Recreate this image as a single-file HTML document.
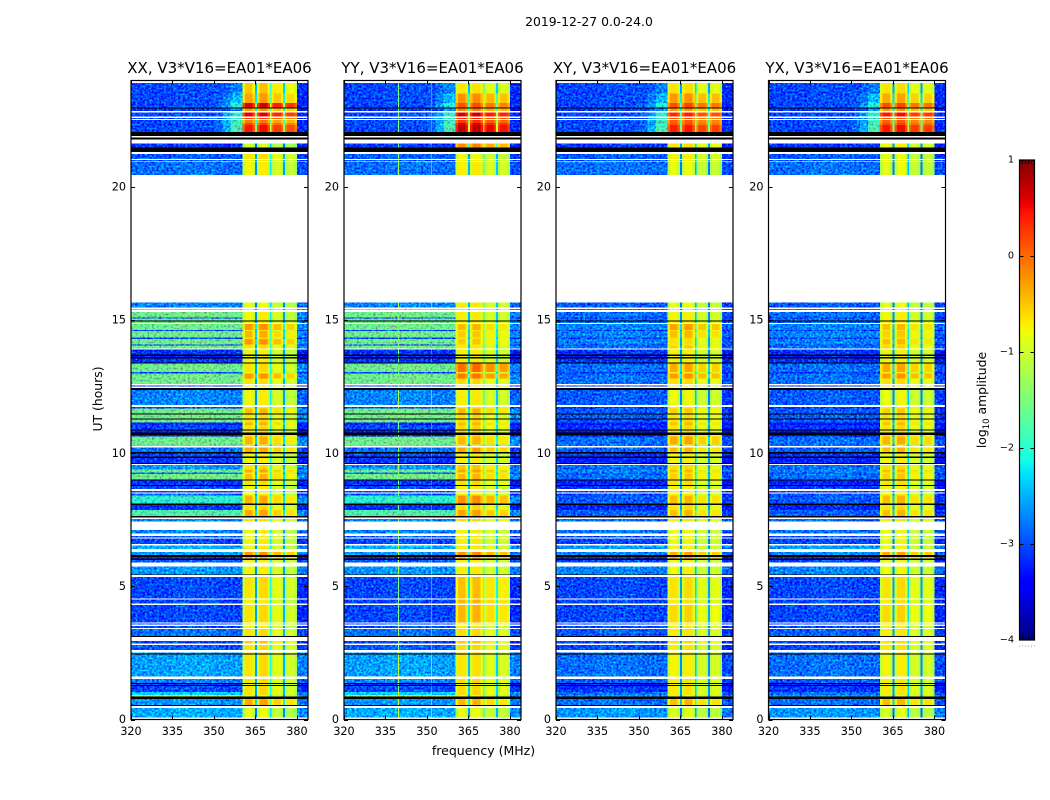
<!DOCTYPE html>
<html lang="en">
<head>
<meta charset="utf-8">
<title>2019-12-27 amplitude waterfall</title>
<style>
html,body{margin:0;padding:0;background:#fff;width:1050px;height:800px;overflow:hidden}
svg{display:block}
text{font-family:"DejaVu Sans","Liberation Sans",sans-serif;fill:#000}
</style>
</head>
<body>
<svg id="figure" xmlns="http://www.w3.org/2000/svg" width="1050" height="800" viewBox="0 0 1050 800">
  <defs>
    <filter id="speckle" x="0" y="0" width="1" height="1" color-interpolation-filters="sRGB">
      <feTurbulence type="fractalNoise" baseFrequency="0.42 0.5" numOctaves="2" seed="7" result="n"/>
      <feColorMatrix in="n" type="matrix" values="0 0 0 0 0.5  0 1.4 0 0 -0.24  0 0 0 0 0.5  0 0 0 0 1" result="g"/>
      <feComposite in="SourceGraphic" in2="g" operator="arithmetic" k1="0" k2="1" k3="1" k4="-0.5" result="mix"/>
      <feComposite in="mix" in2="SourceAlpha" operator="in"/>
    </filter>
  </defs>
  <text x="589" y="26" text-anchor="middle" font-size="12.4">2019-12-27 0.0-24.0</text>
  <text x="483.5" y="755" text-anchor="middle" font-size="12.5">frequency (MHz)</text>
  <text transform="translate(102,399) rotate(-90)" text-anchor="middle" font-size="12.4">UT (hours)</text>
  <text transform="translate(986,400) rotate(-90)" text-anchor="middle" font-size="12.4">log<tspan font-size="8.5" dy="3">10</tspan><tspan dy="-3"> amplitude</tspan></text>
</svg>
<script>
const W = null;
const K = -9;

const panelTitles = ['XX, V3*V16=EA01*EA06','YY, V3*V16=EA01*EA06','XY, V3*V16=EA01*EA06','YX, V3*V16=EA01*EA06'];
const freqTicks = [320,335,350,365,380];
const hourTicks = [0,5,10,15,20];
const colorbarTicks = [1,0,-1,-2,-3,-4];

const freqRange = [320,384];
const hourRange = [0,24];
const colorRange = [-4,1];

/* UT hour edges of the time rows, top to bottom */
const rowEdges = [24,23.91,23.51,23.16,22.99,22.94,22.85,22.80,22.64,22.60,
22.56,22.52,22.41,22.32,22.07,21.91,21.86,21.79,21.64,21.49,
21.31,21.24,21.06,21.02,20.97,20.95,20.45,15.67,15.48,15.42,
15.38,15.30,15.10,15.06,14.99,14.95,14.90,14.85,14.63,14.59,
14.34,14.29,14.09,14.05,13.94,13.89,13.71,13.66,13.61,13.56,
13.41,13.37,13.06,13.00,12.81,12.60,12.55,12.51,12.46,12.37,
11.81,11.73,11.69,11.50,11.46,11.31,11.27,11.16,11.06,10.90,
10.86,10.78,10.68,10.62,10.32,10.27,10.22,10.05,10.00,9.87,
9.83,9.64,9.59,9.56,9.39,9.28,9.22,9.02,8.98,8.81,
8.77,8.66,8.59,8.53,8.49,8.42,8.12,8.05,7.87,7.64,
7.59,7.53,7.43,7.12,6.99,6.89,6.84,6.79,6.59,6.54,
6.40,6.29,6.17,6.11,6.04,6.00,5.89,5.74,5.45,5.43,
5.36,4.55,4.51,4.35,4.30,3.65,3.61,3.56,3.52,3.44,
3.40,3.14,3.09,2.95,2.86,2.80,2.61,2.51,2.47,2.45,
1.61,1.52,1.38,1.34,1.30,1.26,1.04,.92,.86,.77,
.54,.51,.44,.07,0];

/* background log10 amplitude per row: parallel hands (XX, YY) */
const bgParallel = [W,-3,-3,-3,K,-3.1,W,-3,W,-3,
W,-3,-3,-3,K,W,K,W,-3.1,K,
W,-2.9,W,-2.9,W,-2.8,W,-2.7,W,-1.6,
W,-1.6,-3,-1.6,K,-1.6,W,-1.6,-3,-1.6,
-3,-1.6,-3,-1.6,W,-3.1,K,-3.2,K,-3.1,
K,-1.6,-3,-1.6,-1.6,W,-3,W,K,-2.7,
W,-3,-1.6,K,-1.6,K,-1.6,-3.2,-3,K,
-3.2,K,-3.2,-1.6,-1.7,W,-2.8,K,-3,K,
-3.1,K,W,-2.6,-1.6,-2.8,-1.6,K,-3.1,K,
-3,W,-3,W,-2.9,-2,K,-3.1,-1.8,K,
W,-2.7,W,-2.7,W,-2.9,W,-3,W,-2.5,
W,-2.6,K,-3.1,K,-2.9,W,-2.6,K,W,
-3,W,-3,W,-3,W,-3,W,-3,W,
-2.8,K,W,-3,W,-2.9,W,-2.6,K,-2.55,
W,-2.7,K,-3.1,K,-3,-2.3,-1,K,-2.6,
K,W,-2.5,W];

/* background log10 amplitude per row: cross hands (XY, YX) */
const bgCross = [W,-3,-3,-3,K,-3.1,W,-3,W,-3,
W,-3,-3,-3,K,W,K,W,-3.1,K,
W,-2.9,W,-2.9,W,-2.8,W,-2.9,W,-2.8,
W,-2.8,-3.1,-2.8,K,-2.8,W,-2.7,-3,-2.7,
-3,-2.7,-3,-2.8,W,-3.1,K,-3.2,K,-3.1,
K,-2.8,-3.1,-2.8,-2.8,W,-3.1,W,K,-2.9,
W,-3.1,-2.9,K,-2.9,K,-2.9,-3.3,-3.1,K,
-3.3,K,-3.3,-2.8,-2.8,W,-2.9,K,-3.1,K,
-3.2,K,W,-2.8,-2.7,-2.9,-2.8,K,-3.2,K,
-3.1,W,-3,W,-3,-2.9,K,-3.2,-2.9,K,
W,-2.8,W,-2.8,W,-3,W,-3,W,-2.6,
W,-2.7,K,-3.1,K,-3,W,-2.7,K,W,
-3,W,-3,W,-3,W,-3,W,-3,W,
-2.9,K,W,-3,W,-3,W,-2.8,K,-2.8,
W,-2.9,K,-3.2,K,-3.1,-2.8,-2.6,K,-2.8,
K,W,-2.6,W];

/* signal-band log10 amplitude per row, one array per panel */
const bandXX = [W,-.55,-.35,.55,K,-.3,W,.5,W,.2,
W,-.15,.15,.4,K,W,K,W,-1,K,
W,-.7,W,-.8,W,-.8,W,-.9,W,-.9,
W,-.8,-.8,-.8,K,-.8,W,-.3,-.7,-.45,
-.7,-.3,-.7,-.7,W,-.8,K,-.8,K,-.8,
K,-.7,-.8,-.3,-.7,W,-.8,W,K,-.8,
W,-.8,-.5,K,-.7,K,-.7,-.45,-.7,K,
-.7,K,-.7,-.45,-1.2,W,-.4,K,-.8,K,
-.8,K,W,-.7,-.4,-.8,-.5,K,-.7,K,
-.8,W,-.8,W,-.8,-.45,K,-.7,-.4,K,
W,-.7,W,-.8,W,-.8,W,-.8,W,-.8,
W,-.3,K,-.5,K,-.8,W,-.8,K,W,
-.7,W,-.8,W,-.7,W,-.8,W,-.8,W,
-.7,K,W,-.6,W,-.7,W,-.7,K,-.7,
W,-.7,K,-.8,K,-.7,-.7,-.9,K,-.4,
K,W,-.9,W];

const bandYY = [W,-.75,-.3,.05,K,-.2,W,.55,W,.3,
W,.2,.5,.65,K,W,K,W,-.25,K,
W,-.9,W,-.8,W,-.8,W,-.8,W,-.8,
W,-.8,-.8,-.8,K,-.8,W,-.5,-.8,-.6,
-.8,-.6,-.8,-.8,W,-.8,K,-.8,K,-.8,
K,-.1,-.8,-.15,-.7,W,-.8,W,K,-.8,
W,-.8,-.5,K,-.7,K,-.7,-.5,-.7,K,
-.7,K,-.7,-.5,-1.2,W,-.4,K,-.8,K,
-.8,K,W,-.6,-.4,-.8,-.5,K,-.7,K,
-.8,W,-.8,W,-.8,-.3,K,-.7,-.4,K,
W,-.7,W,-.8,W,-.8,W,-.8,W,-.8,
W,-.3,K,-.5,K,-.8,W,-.8,K,W,
-.55,W,-.5,W,-.5,W,-.8,W,-.8,W,
-.7,K,W,-.6,W,-.7,W,-.7,K,-.75,
W,-.7,K,-.8,K,-.7,-.7,-.9,K,-.5,
K,W,-.9,W];

const bandXY = [W,-.7,-.3,.1,K,-.3,W,.3,W,.1,
W,0,.1,.35,K,W,K,W,-.7,K,
W,-.8,W,-.8,W,-.9,W,-.9,W,-.9,
W,-.8,-.8,-.8,K,-.8,W,-.35,-.7,-.5,
-.7,-.7,-.8,-.6,W,-.8,K,-.8,K,-.8,
K,-.4,-.8,-.3,-.7,W,-.8,W,K,-.85,
W,-.8,-.6,K,-.7,K,-.7,-.5,-.7,K,
-.7,K,-.7,-.4,-1,W,-.5,K,-.8,K,
-.8,K,W,-.7,-.5,-.8,-.6,K,-.7,K,
-.8,W,-.8,W,-.8,-.5,K,-.7,-.5,K,
W,-.75,W,-.85,W,-.85,W,-.85,W,-.85,
W,-.4,K,-.5,K,-.85,W,-.85,K,W,
-.7,W,-.75,W,-.65,W,-.8,W,-.8,W,
-.75,K,W,-.7,W,-.75,W,-.75,K,-.8,
W,-.75,K,-.8,K,-.75,-.75,-.9,K,-.5,
K,W,-.95,W];

const bandYX = [W,-.7,-.4,.1,K,-.3,W,.4,W,.1,
W,0,.15,.4,K,W,K,W,-.8,K,
W,-.9,W,-.8,W,-.9,W,-.9,W,-.9,
W,-.8,-.8,-.8,K,-.8,W,-.5,-.75,-.6,
-.75,-.5,-.8,-.65,W,-.8,K,-.8,K,-.8,
K,-.4,-.8,-.3,-.7,W,-.8,W,K,-.85,
W,-.8,-.6,K,-.7,K,-.7,-.5,-.7,K,
-.7,K,-.7,-.45,-1,W,-.5,K,-.8,K,
-.8,K,W,-.7,-.5,-.8,-.6,K,-.7,K,
-.8,W,-.8,W,-.8,-.5,K,-.7,-.5,K,
W,-.75,W,-.85,W,-.85,W,-.85,W,-.85,
W,-.4,K,-.5,K,-.85,W,-.85,K,W,
-.7,W,-.75,W,-.65,W,-.8,W,-.8,W,
-.75,K,W,-.7,W,-.75,W,-.75,K,-.8,
W,-.75,K,-.8,K,-.75,-.75,-.9,K,-.5,
K,W,-.95,W];

/* rise of the low-frequency skirt next to the band, first rows only */
const skirtRise = [0,.3,.6,1,0,.5,0,1,0,1.1,0,1.1,1.1,1.2];

/* channel blocks in MHz */
const bgColumnEdges = [320,335,350,353,356,360.4];
const bgColumnOffsets = [0,.05,0,0,0];
const skirtWeights = [0,0,.15,.45,1];
const bandColumnEdges = [360.4,361.3,364,364.8,365.5,366.5,369.4,370.2,370.8,371.6,374.2,374.9,375.6,376.4,379.2,380];
const rightColumnEdges = [380,384];

/* per-channel offset from the row's band level */
const shapeXX = [-.3,.05,-.25,-1.9,-.25,.1,-.25,-1.4,-.4,-.15,-.4,-1.8,-.5,-.25,-.5];
const shapeYY = [-.25,.08,-.2,-1.7,-.2,.12,-.2,-1,-.35,-.12,-.35,-1.6,-.4,-.18,-.4];
const shapeXY = [-.3,.05,-.25,-1.9,-.25,.1,-.25,-1.6,-.4,-.15,-.4,-1.9,-.4,-.15,-.4];
const shapeYX = [-.3,.05,-.25,-1.9,-.25,.1,-.25,-1.6,-.4,-.15,-.4,-1.9,-.4,-.15,-.4];

/* narrow interference lines seen only in YY, on quiet rows */
const yyLineFreqs = [339.7,351.7];
const yyLineRise = [1.5,.5];
const yyLineQuietBelow = -2.2;

/* layout */
const panelLefts = [131,344,556,768.5];
const panelWidth = 177;
const plotTop = 80.5;
const plotBottom = 719.5;
const cbarLeft = 1019.5;
const cbarRight = 1034.5;
const cbarTop = 160;
const cbarBottom = 640;

const svg = document.getElementById('figure');
const NS = 'http://www.w3.org/2000/svg';

function freqX(panel, f){ return panelLefts[panel] + (f - freqRange[0]) / (freqRange[1] - freqRange[0]) * panelWidth; }
function hourY(h){ return plotBottom - (h - hourRange[0]) / (hourRange[1] - hourRange[0]) * (plotBottom - plotTop); }
function colorY(v){ return cbarBottom - (v - colorRange[0]) / (colorRange[1] - colorRange[0]) * (cbarBottom - cbarTop); }

function jet(v){
  if (v === K) return '#000';
  const t = Math.max(0, Math.min(1, (v - colorRange[0]) / (colorRange[1] - colorRange[0])));
  const ramp = (pts) => {
    for (let i = 1; i < pts.length; i++) {
      if (t <= pts[i][0]) return pts[i-1][1] + (pts[i][1] - pts[i-1][1]) * (t - pts[i-1][0]) / (pts[i][0] - pts[i-1][0]);
    }
    return pts[pts.length-1][1];
  };
  const r = ramp([[0,0],[.35,0],[.66,1],[.89,1],[1,.5]]);
  const g = ramp([[0,0],[.125,0],[.375,1],[.64,1],[.91,0],[1,0]]);
  const b = ramp([[0,.5],[.11,1],[.34,1],[.65,0],[1,0]]);
  return 'rgb(' + Math.round(r*255) + ',' + Math.round(g*255) + ',' + Math.round(b*255) + ')';
}

function shape(tag, parent, props){
  const el = document.createElementNS(NS, tag);
  for (const k in props) el.setAttribute(k, props[k]);
  parent.appendChild(el);
  return el;
}

function cell(parent, panel, f0, f1, h0, h1, value){
  const x0 = freqX(panel, f0), x1 = freqX(panel, f1), y0 = hourY(h0), y1 = hourY(h1);
  const el = shape('rect', parent, {x:x0.toFixed(2), y:y0.toFixed(2), width:(x1-x0).toFixed(2), height:(y1-y0).toFixed(2), fill:jet(value), 'shape-rendering':'crispEdges'});
  
  
  return el;
}

const panelBackgrounds = [bgParallel, bgParallel, bgCross, bgCross];
const panelBands = [bandXX, bandYY, bandXY, bandYX];
const panelShapes = [shapeXX, shapeYY, shapeXY, shapeYX];
const panelNames = ['xx','yy','xy','yx'];

panelTitles.forEach(function(titleText, p){
  const group = shape('g', svg, {});
  
  

  const bgGroup = shape('g', group, {filter:'url(#speckle)'});
  
  

  const bandGroup = shape('g', group, {});
  
  

  const flagGroup = shape('g', group, {});
  
  

  const bg = panelBackgrounds[p], band = panelBands[p], prof = panelShapes[p];
  for (let r = 0; r < bg.length; r++) {
    const h0 = rowEdges[r], h1 = rowEdges[r+1], v = bg[r];
    if (v === W) continue;
    if (v === K) { cell(flagGroup, p, freqRange[0], freqRange[1], h0, h1, K); continue; }
    const rise = skirtRise[r] || 0;
    for (let c = 0; c < bgColumnOffsets.length; c++) {
      cell(bgGroup, p, bgColumnEdges[c], bgColumnEdges[c+1], h0, h1, v + bgColumnOffsets[c] + rise * skirtWeights[c]);
    }
    cell(bgGroup, p, rightColumnEdges[0], rightColumnEdges[1], h0, h1, Math.min(v, -2.5) - .15);
    for (let c = 0; c < prof.length; c++) {
      cell(bandGroup, p, bandColumnEdges[c], bandColumnEdges[c+1], h0, h1, band[r] + prof[c]);
    }
    if (p === 1 && v < yyLineQuietBelow) {
      yyLineFreqs.forEach(function(f, i){
        cell(bandGroup, p, f - .2, f + .2, h0, h1, v + yyLineRise[i]);
      });
    }
  }

  const left = panelLefts[p], right = left + panelWidth;

  freqTicks.forEach(function(f){
    const x = Math.round(freqX(p, f)) + .5;
    const bt = shape('line', group, {x1:x, x2:x, y1:plotBottom, y2:plotBottom-4, stroke:'#000', 'stroke-width':1});
    
    
    const tt = shape('line', group, {x1:x, x2:x, y1:plotTop, y2:plotTop+4, stroke:'#000', 'stroke-width':1});
    
    
    const lb = shape('text', group, {x:freqX(p, f), y:735, 'text-anchor':'middle', 'font-size':11.2});
    lb.textContent = f;
    
    
  });

  hourTicks.forEach(function(h){
    const y = Math.round(hourY(h)) + .5;
    const lt = shape('line', group, {x1:left, x2:left+4, y1:y, y2:y, stroke:'#000', 'stroke-width':1});
    
    
    const rt = shape('line', group, {x1:right, x2:right-4, y1:y, y2:y, stroke:'#000', 'stroke-width':1});
    
    
    const lb = shape('text', group, {x:left-5, y:hourY(h)+3.5, 'text-anchor':'end', 'font-size':11.2});
    lb.textContent = h;
    
    
  });

  const box = shape('rect', group, {x:left, y:plotTop, width:panelWidth, height:plotBottom-plotTop, fill:'none', stroke:'#000', 'stroke-width':1.2});
  
  

  const title = shape('text', group, {x:left+panelWidth/2, y:73, 'text-anchor':'middle', 'font-size':15});
  title.textContent = titleText;
  
  
});

/* colorbar */
const cbar = shape('g', svg, {});



const cbarSteps = 240;
for (let i = 0; i < cbarSteps; i++) {
  const v0 = colorRange[0] + (colorRange[1]-colorRange[0]) * i / cbarSteps;
  const v1 = colorRange[0] + (colorRange[1]-colorRange[0]) * (i+1) / cbarSteps;
  const strip = shape('rect', cbar, {x:cbarLeft, y:colorY(v1).toFixed(2), width:cbarRight-cbarLeft, height:(colorY(v0)-colorY(v1)).toFixed(2), fill:jet((v0+v1)/2), 'shape-rendering':'crispEdges'});
  
  
}

colorbarTicks.forEach(function(v){
  const y = Math.min(Math.round(colorY(v)) + .5, cbarBottom);
  const a = shape('line', cbar, {x1:cbarLeft, x2:cbarLeft+4, y1:y, y2:y, stroke:'#000', 'stroke-width':1});
  
  
  const b = shape('line', cbar, {x1:cbarRight, x2:cbarRight-4, y1:y, y2:y, stroke:'#000', 'stroke-width':1});
  
  
  const lb = shape('text', cbar, {x:1014, y:colorY(v)+2.5, 'text-anchor':'end', 'font-size':9.7});
  lb.textContent = String(v).replace('-', '\u2212');
  
  
});

for (let i = 0; i < 6; i++) {
  const x = cbarLeft + (cbarRight - cbarLeft) * i / 5;
  const top = shape('line', cbar, {x1:x, x2:x, y1:cbarTop, y2:cbarTop+4, stroke:'#000', 'stroke-width':.8});
  
  
  const bottom = shape('line', cbar, {x1:x, x2:x, y1:cbarBottom, y2:cbarBottom-4, stroke:'#000', 'stroke-width':.8});
  
  
  const dot = shape('rect', cbar, {x:x-.5, y:645.5, width:1, height:1, fill:'#999'});
  
  
}

const cbarBox = shape('rect', cbar, {x:cbarLeft, y:cbarTop, width:cbarRight-cbarLeft, height:cbarBottom-cbarTop, fill:'none', stroke:'#000', 'stroke-width':1.2});


</script>
</body>
</html>
